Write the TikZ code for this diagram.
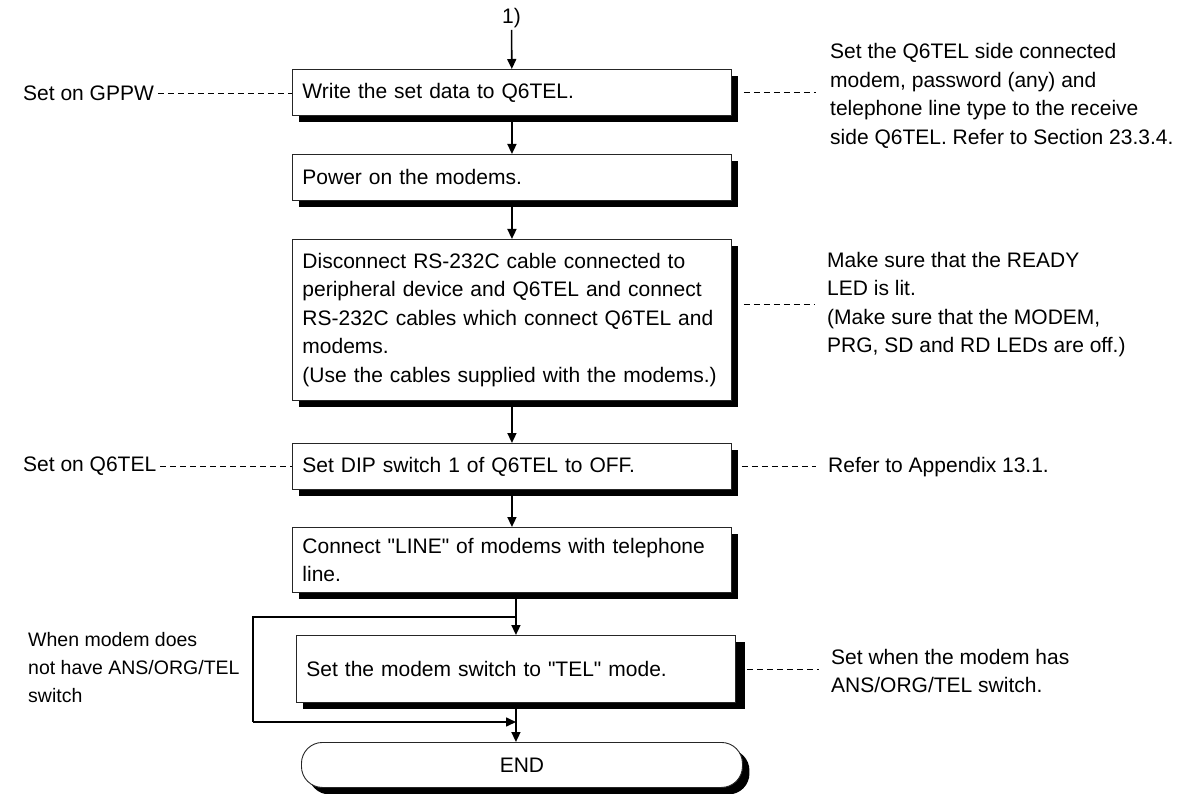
\documentclass[tikz,border=0pt]{standalone}
\usepackage{fontspec}
\setmainfont{Liberation Sans}
\usetikzlibrary{arrows.meta,shadows}

\begin{document}
\begin{tikzpicture}[x=1pt, y=-1pt,
  every node/.style={font=\fontsize{21}{28.5}\selectfont},
  stepbox/.style={draw=black!85, line width=0.9pt, fill=white, anchor=north west,
    text width=419pt, inner xsep=10pt, inner ysep=0pt, align=left, minimum height=#1,
    drop shadow={shadow xshift=7pt, shadow yshift=-7pt, fill=black, opacity=1}},
  stepbox/.default=46pt,
  endbox/.style={draw=black!85, line width=0.9pt, fill=white, anchor=north west,
    minimum width=441pt, minimum height=45pt, rounded corners=21pt,
    drop shadow={shadow xshift=7pt, shadow yshift=-7pt, fill=black, opacity=1}},
  note/.style={align=left, inner sep=0pt, anchor=west},
  flow/.style={-{Triangle[length=10pt,width=9pt]}, line width=1.6pt},
  notedash/.style={line width=0.8pt, dash pattern=on 6pt off 4pt}]

  % ── 入口标记 ──
  \node[inner sep=2pt] (start) at (511.5,18) {1)};

  % ── 主流程的 6 个步骤框 + END ──
  \node[stepbox] (wrt) at (292,69)  {Write the set data to Q6TEL.};
  \node[stepbox] (pwr) at (292,154) {Power on the modems.};
  \node[stepbox=161pt] (dsc) at (292,239) {Disconnect RS-232C cable connected to\\
    peripheral device and Q6TEL and connect\\RS-232C cables which connect Q6TEL and\\
    modems.\\(Use the cables supplied with the modems.)};
  \node[stepbox] (dip) at (292,443) {Set DIP switch 1 of Q6TEL to OFF.};
  \node[stepbox=65pt] (lin) at (292,527)
    {Connect \textquotedbl LINE\textquotedbl{} of modems with telephone\\line.};
  \node[stepbox=67pt, drop shadow={shadow xshift=10pt, shadow yshift=-7pt, fill=black, opacity=1}]
    (tel) at (296,635) {Set the modem switch to \textquotedbl TEL\textquotedbl{} mode.};
  \node[endbox] (fin) at (301,742) {END};

  % ── 主干箭头 ──
  \draw[flow] (start) -- (wrt);
  \draw[flow] (wrt) -- (pwr);
  \draw[flow] (pwr) -- (dsc);
  \draw[flow] (dsc) -- (dip);
  \draw[flow] (dip) -- (lin);
  \draw[flow] (lin.south -| tel.north) -- (tel.north);
  \draw[flow] (tel.south) -- (tel.south |- fin.north);

  % ── 绕过 TEL 步骤的旁路 ──
  \coordinate (jt) at (516,617);
  \coordinate (jb) at (516,722);
  \coordinate (lt) at (253,617);
  \coordinate (lb) at (253,722);
  \draw[line width=1.6pt] (jt) -- (lt) -- (lb);
  \draw[flow] (lb) -- (jb);

  % ── 左侧说明 ──
  \node[note] (gppw) at (23,93)  {Set on GPPW};
  \node[note] (q6)   at (23,466) {Set on Q6TEL};
  \node[note, font=\fontsize{19.5}{28}\selectfont] (nomd) at (28,668)
    {When modem does\\not have ANS/ORG/TEL\\switch};

  % ── 右侧说明 ──
  \node[note] (n1) at (830,96) {Set the Q6TEL side connected\\modem, password (any) and\\
    telephone line type to the receive\\side Q6TEL. Refer to Section 23.3.4.};
  \node[note] (n2) at (827,304.5) {Make sure that the READY\\LED is lit.\\
    (Make sure that the MODEM,\\PRG, SD and RD LEDs are off.)};
  \node[note] (n3) at (828,467) {Refer to Appendix 13.1.};
  \node[note] (n4) at (831,671) {Set when the modem has\\ANS/ORG/TEL switch.};

  % ── 虚线引线 ──
  \draw[notedash, shorten <=4pt] (gppw.east) -- (gppw.east -| wrt.west);
  \draw[notedash, shorten <=4pt] (q6.east) -- (q6.east -| dip.west);
  \draw[notedash, shorten <=12pt, shorten >=14pt] (wrt.east) -- (wrt.east -| n1.west);
  \draw[notedash, shorten <=12pt, shorten >=12pt] (n2.west -| dsc.east) -- (n2.west);
  \draw[notedash, shorten <=10pt, shorten >=12pt] (dip.east) -- (dip.east -| n3.west);
  \draw[notedash, shorten <=11pt, shorten >=12pt] (tel.east) -- (tel.east -| n4.west);

  % 钉死画布
  \pgfresetboundingbox
  \path[use as bounding box] (0,0) rectangle (1186,794);
\end{tikzpicture}
\end{document}
